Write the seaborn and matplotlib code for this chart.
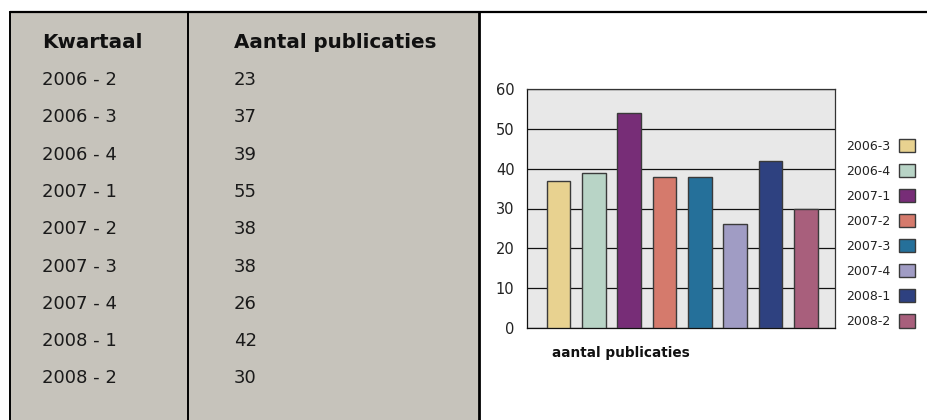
import matplotlib
matplotlib.use("Agg")
import matplotlib.pyplot as plt
from matplotlib.patches import Rectangle
from matplotlib.lines import Line2D
import seaborn as sns
import pandas as pd

# table (left panel)
KWARTAAL = ["2006 - 2", "2006 - 3", "2006 - 4", "2007 - 1", "2007 - 2",
            "2007 - 3", "2007 - 4", "2008 - 1", "2008 - 2"]
AANTAL = [23, 37, 39, 55, 38, 38, 26, 42, 30]

# bar chart (right panel)
CHART_LABELS = ["2006-3", "2006-4", "2007-1", "2007-2",
                "2007-3", "2007-4", "2008-1", "2008-2"]
CHART_VALUES = [37, 39, 54, 38, 38, 26, 42, 30]
BAR_COLORS = ["#e8d290", "#b8d4c6", "#772d77", "#d57a6c",
              "#25709a", "#a09cc4", "#2e4180", "#a85f7c"]
Y_TICKS = [0, 10, 20, 30, 40, 50, 60]

sns.set_theme(style="white")
plt.rcParams["font.family"] = ["DejaVu Sans"]

W, H = 928, 420
fig = plt.figure(figsize=(W / 100, H / 100), dpi=100)
fig.patch.set_facecolor("white")


def fx(px):
    return px / W


def fy(py):
    return 1 - py / H


# --- left table panel ---
fig.patches.append(Rectangle((fx(10), 0), fx(479) - fx(10), fy(12),
                             transform=fig.transFigure, facecolor="#c6c3bb",
                             edgecolor="none", zorder=0))
fig.add_artist(Line2D([fx(10), 1], [fy(12), fy(12)], color="black", lw=1.6))
for xp, lw in [(10, 1.4), (188, 1.4), (479, 2.0)]:
    fig.add_artist(Line2D([fx(xp), fx(xp)], [fy(12), 0], color="black", lw=lw))

fig.text(fx(42), fy(42), "Kwartaal", fontsize=14.3, fontweight="bold",
         va="center", ha="left", color="#111111")
fig.text(fx(234), fy(42), "Aantal publicaties", fontsize=14.3, fontweight="bold",
         va="center", ha="left", color="#111111")
for i, (k, a) in enumerate(zip(KWARTAAL, AANTAL)):
    yp = 80 + i * 37.3
    fig.text(fx(42), fy(yp), k, fontsize=13, va="center", ha="left", color="#1a1a1a")
    fig.text(fx(234), fy(yp), str(a), fontsize=13, va="center", ha="left", color="#1a1a1a")

# --- bar chart ---
ax = fig.add_axes([fx(527), fy(328), fx(835) - fx(527), fy(89) - fy(328)])
df = pd.DataFrame({"kwartaal": CHART_LABELS, "aantal": CHART_VALUES})
sns.barplot(data=df, x="kwartaal", y="aantal", hue="kwartaal",
            palette=BAR_COLORS, saturation=1, width=0.67, edgecolor="#3a3a3a",
            linewidth=1.0, legend=False, ax=ax, zorder=3)

ax.set_facecolor("#e8e8e8")
ax.set_ylim(0, 60)
ax.set_xlim(-0.89, 7.82)
ax.set_yticks(Y_TICKS)
ax.yaxis.grid(True, color="#111111", lw=0.9)
ax.set_axisbelow(True)
ax.set_xticks([])
ax.set_ylabel("")
ax.tick_params(axis="y", length=0, pad=9, labelsize=10.5, colors="#222222")
for s in ax.spines.values():
    s.set_visible(True)
    s.set_color("#333333")
    s.set_linewidth(0.9)
ax.spines["left"].set_color("#111111")
ax.spines["bottom"].set_color("#111111")

ax.set_xlabel("aantal publicaties", fontsize=9.8, fontweight="bold",
              loc="left", color="#111111")
ax.xaxis.set_label_coords(0.08, -0.075)

handles = [c.patches[0] for c in ax.containers]
fig.legend(handles, CHART_LABELS, loc="center left",
           bbox_to_anchor=(fx(841), fy(233.5)), frameon=False,
           markerfirst=False, fontsize=9, handlelength=1.25,
           handleheight=1.25, labelspacing=0.9, handletextpad=0.7,
           borderaxespad=0, labelcolor="#222222")

fig.savefig("out.png", dpi=100)
